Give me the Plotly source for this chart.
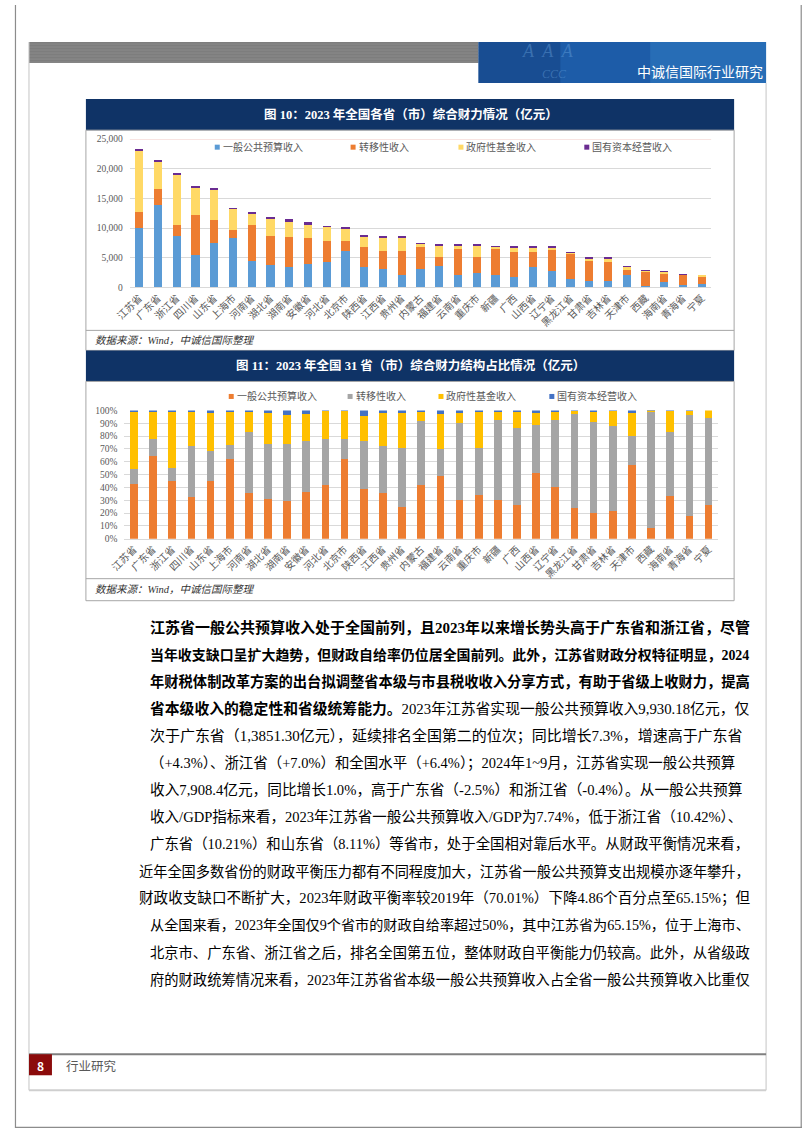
import re
import plotly.graph_objects as go

W, H = 802, 1133
# the photographed page shows the figure slightly inset (about 14 px left, 6 px top,
# scaled by about 0.9825 / 0.99); positions below are given in page pixels and mapped back.
OX, SX = 14.0, 0.9825
OY, SY = 6.0, 0.99

provinces = ["江苏省", "广东省", "浙江省", "四川省", "山东省", "上海市", "河南省", "湖北省",
             "湖南省", "安徽省", "河北省", "北京市", "陕西省", "江西省", "贵州省", "内蒙古",
             "福建省", "云南省", "重庆市", "新疆", "广西", "山西省", "辽宁省", "黑龙江省",
             "甘肃省", "吉林省", "天津市", "西藏", "海南省", "青海省", "宁夏"]

general_budget = [9930, 13851, 8600, 5529, 7465, 8312, 4512, 3692, 3360, 3939, 4286, 6181,
                  3437, 3059, 2078, 3083, 3592, 2149, 2441, 2100, 1784, 3479, 2754, 1396,
                  1003, 1075, 2027, 236, 900, 381, 503]
transfer = [2730, 2800, 1980, 6750, 3890, 1430, 6020, 4990, 5130, 4420, 3610, 1560,
            3310, 3150, 3970, 3700, 1500, 4270, 2600, 4300, 4150, 2560, 3560, 4330,
            3490, 3250, 830, 2480, 1360, 1686, 1288]
gov_fund = [10400, 4580, 8400, 4560, 5040, 3470, 1940, 2915, 2610, 2290, 2275, 2210,
            1720, 2180, 2320, 520, 2000, 557, 2000, 420, 840, 640, 420, 150,
            410, 580, 630, 28, 450, 73, 108]
state_capital = [300, 280, 250, 170, 300, 133, 126, 210, 450, 290, 30, 50,
                 345, 155, 150, 97, 220, 164, 94, 90, 90, 157, 90, 30,
                 40, 25, 64, 8, 14, 10, 0]

series_names = ["一般公共预算收入", "转移性收入", "政府性基金收入", "国有资本经营收入"]
colors1 = ["#5b9bd5", "#ed7d31", "#ffd966", "#6a2c91"]
colors2 = ["#ed7d31", "#a5a5a5", "#ffc000", "#4472c4"]

title1 = "图 10：2023 年全国各省（市）综合财力情况（亿元）"
title2 = "图 11：2023 年全国 31 省（市）综合财力结构占比情况（亿元）"
source_text = "数据来源：Wind，中诚信国际整理"

body_lines = [
    "<b>江苏省一般公共预算收入处于全国前列，且2023年以来增长势头高于广东省和浙江省，尽管</b>",
    "<b>当年收支缺口呈扩大趋势，但财政自给率仍位居全国前列。此外，江苏省财政分权特征明显，2024</b>",
    "<b>年财税体制改革方案的出台拟调整省本级与市县税收收入分享方式，有助于省级上收财力，提高</b>",
    "<b>省本级收入的稳定性和省级统筹能力。</b>2023年江苏省实现一般公共预算收入9,930.18亿元，仅",
    "次于广东省（1,3851.30亿元），延续排名全国第二的位次；同比增长7.3%，增速高于广东省",
    "（+4.3%）、浙江省（+7.0%）和全国水平（+6.4%）；2024年1~9月，江苏省实现一般公共预算",
    "收入7,908.4亿元，同比增长1.0%，高于广东省（-2.5%）和浙江省（-0.4%）。从一般公共预算",
    "收入/GDP指标来看，2023年江苏省一般公共预算收入/GDP为7.74%，低于浙江省（10.42%）、",
    "广东省（10.21%）和山东省（8.11%）等省市，处于全国相对靠后水平。从财政平衡情况来看，",
    "近年全国多数省份的财政平衡压力都有不同程度加大，江苏省一般公共预算支出规模亦逐年攀升，",
    "财政收支缺口不断扩大，2023年财政平衡率较2019年（70.01%）下降4.86个百分点至65.15%；但",
    "从全国来看，2023年全国仅9个省市的财政自给率超过50%，其中江苏省为65.15%，位于上海市、",
    "北京市、广东省、浙江省之后，排名全国第五位，整体财政自平衡能力仍较高。此外，从省级政",
    "府的财政统筹情况来看，2023年江苏省省本级一般公共预算收入占全省一般公共预算收入比重仅",
]
body_x = [147, 147, 147, 147, 147, 147, 147, 147, 147, 136, 136, 147, 147, 147]
BODY_RIGHT = 747

FONT = "Liberation Serif, Noto Sans CJK SC, serif"
SANS = "Noto Sans CJK SC, sans-serif"

LATIN_EM = {".": 0.25, ",": 0.25, "%": 0.833, "+": 0.564, "-": 0.333, "~": 0.541,
            "/": 0.278, "G": 0.722, "D": 0.722, "P": 0.556, " ": 0.25}


def em_width(s):
    s = re.sub(r"<[^>]+>", "", s)
    w = 0.0
    for ch in s:
        if ord(ch) > 0x2E80:
            w += 1.0
        elif ch.isdigit():
            w += 0.5
        else:
            w += LATIN_EM.get(ch, 0.5)
    return w


def px(x):
    return ((x - OX) / SX) / W


def py(y):
    return 1 - ((y - OY) / SY) / H


series1 = [general_budget, transfer, gov_fund, state_capital]
totals = [sum(v) for v in zip(*series1)]
series2 = [[v / t for v, t in zip(s, totals)] for s in series1]

fig = go.Figure()
for name, vals, c in zip(series_names, series1, colors1):
    fig.add_trace(go.Bar(x=provinces, y=vals, name=name, marker_color=c,
                         marker_line_width=0, width=0.44, xaxis="x", yaxis="y",
                         showlegend=False))
for name, vals, c in zip(series_names, series2, colors2):
    fig.add_trace(go.Bar(x=provinces, y=vals, name=name, marker_color=c,
                         marker_line_width=0, width=0.40, xaxis="x2", yaxis="y2",
                         showlegend=False))

shapes = []


def rect(x0, y0, x1, y1, fill=None, line=None, lw=1, layer="below"):
    d = dict(type="rect", xref="paper", yref="paper", x0=px(x0), x1=px(x1),
             y0=py(y0), y1=py(y1), layer=layer)
    d["fillcolor"] = fill if fill else "rgba(0,0,0,0)"
    d["line"] = dict(color=line, width=lw) if line else dict(width=0)
    shapes.append(d)


def hline(x0, x1, y, color, lw=1, layer="below"):
    shapes.append(dict(type="line", xref="paper", yref="paper", x0=px(x0), x1=px(x1),
                       y0=py(y), y1=py(y), line=dict(color=color, width=lw), layer=layer))


def vline(x, y0, y1, color, lw=1, layer="below"):
    shapes.append(dict(type="line", xref="paper", yref="paper", x0=px(x), x1=px(x),
                       y0=py(y0), y1=py(y1), line=dict(color=color, width=lw), layer=layer))


# page border (right and bottom edges of the page image)
shapes.append(dict(type="line", xref="paper", yref="paper", x0=0.999, x1=0.999,
                   y0=0.0005, y1=1, line=dict(color="#8c8c8c", width=1.2), layer="below"))
shapes.append(dict(type="line", xref="paper", yref="paper", x0=0, x1=1,
                   y0=0.0005, y1=0.0005, line=dict(color="#8c8c8c", width=1.2), layer="below"))
shapes.append(dict(type="line", xref="paper", yref="paper", x0=0.0006, x1=0.0006,
                   y0=0, y1=1, line=dict(color="#8c8c8c", width=1.2), layer="below"))

# header
rect(28, 43, 478, 64, fill="#7d7d7d")
for yy in range(45, 64, 3):
    hline(28, 478, yy, "#8e8e8e", 0.8)
rect(478, 43, 766, 84, fill="#1d5ca8")
rect(478, 43, 560, 84, fill="rgba(20,60,120,0.45)")
rect(650, 43, 766, 84, fill="rgba(60,140,210,0.35)")

# frame
vline(28, 43, 1090, "#c4c4c4", 1)
vline(766, 84, 1090, "#c4c4c4", 1)
hline(28, 766, 1054, "#808080", 2)
hline(28, 766, 1090, "#cfcfcf", 2)
rect(28, 1054, 51, 1075, fill="#8b0b0b")

# chart panels
rect(85, 100, 734, 131, fill="#0f3366")
rect(85, 131, 734, 351, line="#a6a6a6", lw=1)
hline(85, 734, 331, "#a6a6a6", 1)
rect(85, 351, 734, 382, fill="#0f3366")
rect(85, 382, 734, 601, line="#a6a6a6", lw=1)
hline(85, 734, 579, "#a6a6a6", 1)

# top gridline in chart 1 (pinkish)
shapes.append(dict(type="line", xref="x domain", yref="y", x0=0, x1=1, y0=25000, y1=25000,
                   line=dict(color="#f0c8c4", width=1), layer="below"))

annotations = []


def text(x, y, s, size, color="#000", family=FONT, xanchor="left", yanchor="middle"):
    annotations.append(dict(x=px(x), y=py(y), xref="paper", yref="paper", text=s,
                            showarrow=False, xanchor=xanchor, yanchor=yanchor,
                            align=xanchor,
                            font=dict(size=size, color=color, family=family)))


# header text
text(765, 72, "中诚信国际行业研究", 14, "#ffffff", SANS, xanchor="right")
text(520, 52, "<i>A  A  A</i>", 18, "rgba(120,180,235,0.35)", FONT)
text(540, 75, "<i>CCC</i>", 12, "rgba(120,180,235,0.35)", FONT)

# chart titles
text(410, 115.5, "<b>" + title1 + "</b>", 12.5, "#ffffff", FONT, xanchor="center")
text(410, 366.5, "<b>" + title2 + "</b>", 12.5, "#ffffff", FONT, xanchor="center")

# legends (drawn)
leg1_x = [214, 350, 458, 584]
for xx, name, c in zip(leg1_x, series_names, colors1):
    rect(xx, 145.5, xx + 5, 150.5, fill=c, layer="above")
    text(xx + 6, 148, name, 10, "#595959")
leg2_x = [228, 347, 438, 549]
for xx, name, c in zip(leg2_x, series_names, colors2):
    rect(xx, 394.5, xx + 5, 399.5, fill=c, layer="above")
    text(xx + 6, 397, name, 10, "#595959")

# source lines
text(92, 341.5, "<i>" + source_text + "</i>", 10.5, "#333333")
text(92, 590, "<i>" + source_text + "</i>", 10.5, "#333333")

# body text (justified look: per-line size fitted to the column width)
for i, (line, xx) in enumerate(zip(body_lines, body_x)):
    sz = (BODY_RIGHT - xx) / em_width(line)
    sz = max(13.6, min(15.2, sz))
    text(xx, 628 + 27 * i, line, round(sz, 2), "#000000")

# footer
text(39.5, 1065, "<b>8</b>", 12, "#ffffff", SANS, xanchor="center")
text(63, 1065, "行业研究", 12.5, "#595959", SANS)

tickfont = dict(size=10, color="#595959", family=FONT)
fig.update_layout(
    width=W, height=H, margin=dict(l=0, r=0, t=0, b=0, pad=0),
    paper_bgcolor="#ffffff", plot_bgcolor="rgba(0,0,0,0)",
    barmode="stack", showlegend=False,
    shapes=shapes, annotations=annotations,
    xaxis=dict(domain=[px(129), px(711)], anchor="y", type="category",
               tickangle=-45, tickfont=tickfont, showgrid=False, showline=True,
               linecolor="#d9d9d9", ticks="", range=[-0.5, 30.5], fixedrange=True),
    yaxis=dict(domain=[py(288), py(140)], anchor="x", range=[0, 25000], dtick=5000,
               tickformat=",d", tickfont=dict(size=9.5, color="#595959", family=FONT),
               gridcolor="#d9d9d9", zeroline=False, ticks="", ticklabelstandoff=6,
               fixedrange=True),
    xaxis2=dict(domain=[px(123.5), px(718)], anchor="y2", type="category",
                tickangle=-45, tickfont=tickfont, showgrid=False, showline=True,
                linecolor="#d9d9d9", ticks="", range=[-0.5, 30.5], fixedrange=True),
    yaxis2=dict(domain=[py(539), py(411)], anchor="x2", range=[0, 1.0001], dtick=0.1,
                tickformat=".0%", tickfont=dict(size=9.5, color="#595959", family=FONT),
                gridcolor="#d9d9d9", zeroline=False, ticks="", ticklabelstandoff=6,
                fixedrange=True),
)

fig.write_html(
    "out.html",
    config={"displayModeBar": False},
    post_script="document.documentElement.style.margin='0';document.body.style.margin='0';"
                "document.documentElement.style.overflow='hidden';document.body.style.overflow='hidden';",
)
